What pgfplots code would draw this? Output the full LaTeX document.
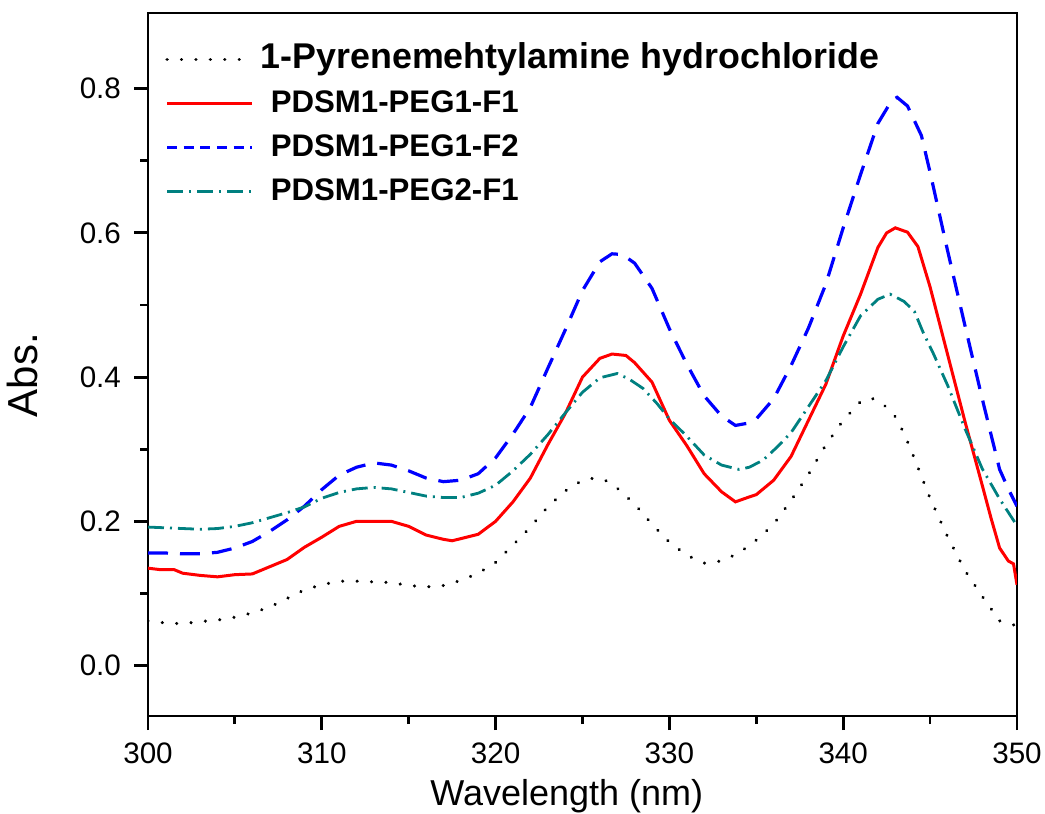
\documentclass[border=0pt]{standalone}
\usepackage{pgfplots}
\pgfplotsset{compat=1.18}
\usepackage{fontspec}
\setmainfont{Liberation Sans}
\definecolor{tealc}{RGB}{0,128,128}
\definecolor{redc}{RGB}{255,0,0}
\definecolor{bluec}{RGB}{0,0,255}
\begin{document}
\begin{tikzpicture}
\begin{axis}[
  at={(74pt,49pt)}, anchor=south west,
  width=434.5pt, height=351.5pt, scale only axis,
  xmin=300, xmax=350, ymin=-0.07, ymax=0.905,
  xtick={300,310,320,330,340,350}, minor x tick num=1,
  ytick={0,0.2,0.4,0.6,0.8}, minor y tick num=1,
  tick align=outside, xtick pos=bottom, ytick pos=left,
  major tick length=7pt, minor tick length=4pt,
  axis line style={line width=1.4pt},
  tick style={black, line width=1.4pt},
  tick label style={font=\fontsize{14.8}{16}\selectfont},
  /pgf/number format/assume math mode=true,
  yticklabel style={xshift=-3pt, /pgf/number format/.cd, fixed, fixed zerofill, precision=1},
  xticklabel style={yshift=-3pt, /pgf/number format/.cd, fixed, precision=0},
  xlabel={Wavelength (nm)},
  xlabel style={font=\fontsize{18}{20}\selectfont, at={(axis description cs:0.482,-0.114)}, anchor=center},
  ylabel={Abs.},
  ylabel style={font=\fontsize{21}{24}\selectfont, at={(axis description cs:-0.144,0.485)}, anchor=center},
  legend cell align=left,
  legend image code/.code={\draw[#1] (0pt,0pt) -- (42.5pt,0pt);},
  legend style={at={(0,1)}, anchor=north west, xshift=8.5pt, yshift=-12pt,
    draw=none, fill=none, inner sep=0pt, row sep=0pt,
    font=\fontsize{15.6}{18}\selectfont\bfseries,
    nodes={inner xsep=0pt, inner ysep=2.5pt, text height=13pt, text depth=4pt},
    /tikz/every odd column/.append style={column sep=3.5pt}},
]
\addplot[black, line width=1.7pt, line cap=round, dash pattern=on 0.01pt off 7.2pt] coordinates {
(300,0.062)(301,0.059)(302,0.058)(303,0.061)(304,0.063)(305,0.067)(306,0.073)(307,0.081)(308,0.093)(309,0.105)(310,0.112)(311,0.117)(312,0.117)(313,0.116)(314,0.115)(315,0.111)(316,0.109)(317,0.111)(318,0.118)(319,0.128)(320,0.143)(321,0.167)(322,0.192)(323,0.220)(324,0.242)(325,0.257)(325.7,0.260)(326.3,0.257)(327,0.246)(328,0.224)(329,0.196)(330,0.171)(331,0.153)(332,0.142)(333,0.145)(334,0.156)(335,0.174)(336,0.196)(337,0.229)(338,0.265)(339,0.306)(340,0.340)(341,0.366)(341.6,0.371)(342.2,0.365)(343,0.345)(343.5,0.322)(344,0.293)(345,0.232)(346,0.179)(347,0.132)(348,0.096)(349,0.062)(350,0.055)
};
\addlegendentry{\fontsize{17.9}{20}\selectfont\bfseries 1-Pyrenemehtylamine hydrochloride}
\addplot[redc, line width=1.5pt] coordinates {
(300,0.135)(300.7,0.133)(301.5,0.133)(302,0.128)(303,0.125)(304,0.123)(305,0.126)(306,0.127)(307,0.137)(308,0.147)(309,0.164)(310,0.178)(311,0.193)(312,0.200)(313,0.200)(314,0.200)(315,0.193)(316,0.181)(317,0.175)(317.5,0.173)(318,0.176)(319,0.182)(320,0.200)(321,0.227)(322,0.260)(323,0.306)(324,0.349)(325,0.400)(326,0.426)(326.7,0.432)(327.5,0.430)(328,0.420)(329,0.393)(330,0.340)(331,0.305)(332,0.266)(333,0.241)(333.8,0.227)(334.5,0.233)(335,0.237)(336,0.257)(337,0.290)(338,0.340)(339,0.390)(340,0.457)(341,0.515)(342,0.580)(342.5,0.600)(343,0.607)(343.7,0.601)(344.3,0.581)(345,0.525)(346,0.432)(347,0.339)(348,0.250)(348.5,0.205)(349,0.163)(349.5,0.145)(349.8,0.141)(350,0.112)
};
\addlegendentry{\hspace{5pt}PDSM1-PEG1-F1}
\addplot[bluec, line width=1.6pt, dash pattern=on 10pt off 6pt, legend image post style={dash pattern=on 5pt off 3.3pt}] coordinates {
(300,0.156)(301,0.156)(302,0.155)(303,0.155)(304,0.157)(305,0.163)(306,0.172)(307,0.186)(308,0.202)(309,0.221)(310,0.244)(311,0.264)(312,0.275)(313,0.281)(314,0.278)(315,0.270)(316,0.260)(317,0.255)(318,0.257)(319,0.266)(320,0.288)(321,0.321)(322,0.358)(323,0.412)(324,0.465)(325,0.520)(326,0.560)(326.7,0.571)(327.3,0.570)(328,0.558)(329,0.523)(330,0.467)(331,0.418)(332,0.374)(333,0.346)(333.8,0.333)(334.5,0.336)(335,0.342)(336,0.370)(337,0.416)(338,0.468)(339,0.529)(340,0.607)(341,0.681)(342,0.752)(342.8,0.784)(343.1,0.788)(343.7,0.776)(344.5,0.735)(345,0.684)(346,0.576)(347,0.472)(348,0.370)(349,0.272)(349.5,0.245)(350,0.221)
};
\addlegendentry{\hspace{5pt}PDSM1-PEG1-F2}
\addplot[tealc, line width=1.4pt, dash pattern=on 8pt off 3pt on 1pt off 3pt] coordinates {
(300,0.192)(301,0.191)(302,0.190)(303,0.189)(304,0.190)(305,0.193)(306,0.198)(307,0.205)(308,0.212)(309,0.220)(310,0.232)(311,0.240)(312,0.245)(313,0.247)(314,0.245)(315,0.240)(316,0.235)(317,0.233)(318,0.233)(319,0.239)(320,0.250)(321,0.270)(322,0.293)(323,0.320)(324,0.350)(325,0.379)(326,0.399)(327,0.405)(327.7,0.397)(328.5,0.384)(329.3,0.363)(330,0.342)(331,0.318)(332,0.292)(333,0.278)(334,0.272)(334.6,0.275)(335.4,0.285)(336.2,0.303)(337,0.323)(338,0.359)(339,0.395)(340,0.442)(341,0.485)(342,0.508)(342.7,0.515)(343.5,0.505)(344.1,0.491)(344.6,0.462)(345.2,0.432)(346,0.389)(347,0.329)(348,0.273)(349,0.231)(350,0.194)
};
\addlegendentry{\hspace{5pt}PDSM1-PEG2-F1}
\end{axis}
\pgfresetboundingbox
\path[use as bounding box] (0,0) rectangle (522.5pt,407pt);
\end{tikzpicture}
\end{document}
